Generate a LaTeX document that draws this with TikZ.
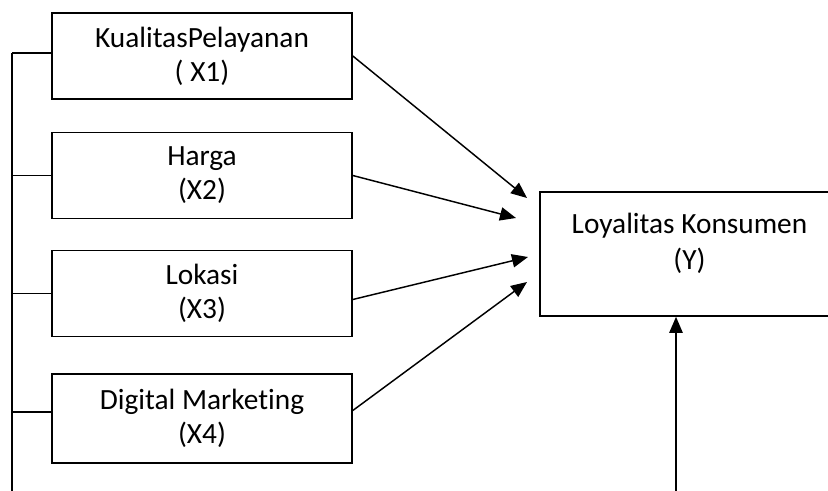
\documentclass[tikz,border=0pt]{standalone}
\usepackage{fontspec}
\setmainfont{Carlito}[RawFeature=-liga]
\usetikzlibrary{arrows.meta}
\begin{document}
\begin{tikzpicture}[x=0.75pt,y=-0.75pt,
  varbox/.style={draw,line width=1.2pt,minimum width=225pt,minimum height=64.5pt,inner sep=0pt,align=center,
    font=\fontsize{22pt}{25.5pt}\selectfont},
  conn/.style={line width=1.1pt},
  arr/.style={line width=1.1pt,-{Triangle[length=12pt,width=10pt]}},
  lbl/.style={align=center,font=\fontsize{22pt}{27pt}\selectfont}]
\useasboundingbox (0,0) rectangle (828,491);
\clip (0,0) rectangle (828,491);
\node[varbox] (b1) at (202,56) {KualitasPelayanan\\( X1)};
\node[varbox] (b2) at (202,175.5) {Harga\\(X2)};
\node[varbox] (b3) at (202,293.5) {Lokasi\\(X3)};
\node[varbox,minimum height=66.75pt] (b4) at (202,418.5) {Digital Marketing\\(X4)};
\node[draw,line width=1.2pt,minimum width=224pt,minimum height=93pt,inner sep=0pt] (y) at (689.5,254) {};
\node[lbl] (yt) at (689.5,243) {Loyalitas Konsumen\\(Y)};
% left bracket
\coordinate (top) at (12,53);
\coordinate (bot) at (12,492);
\draw[conn] (top) -- (bot);
\draw[conn] (top) -- (b1.west |- top);
\draw[conn] (12,175.5) -- (b2.west);
\draw[conn] (12,293.5) -- (b3.west);
\draw[conn] (12,412) -- (b4.west |- 12,412);
% arrows
\coordinate (t1) at (527,198);
\coordinate (t2) at (516,218);
\coordinate (t3) at (528,257);
\coordinate (t4) at (527,282);
\draw[arr] (b1.east) -- (t1);
\draw[arr] (b2.east) -- (t2);
\draw[arr] ([yshift=-4.5pt]b3.east) -- (t3);
\draw[arr] ([yshift=6pt]b4.east) -- (t4);
\coordinate (ybot) at (676,492);
\draw[arr] (ybot) -- (y.south -| ybot);
\end{tikzpicture}
\end{document}
